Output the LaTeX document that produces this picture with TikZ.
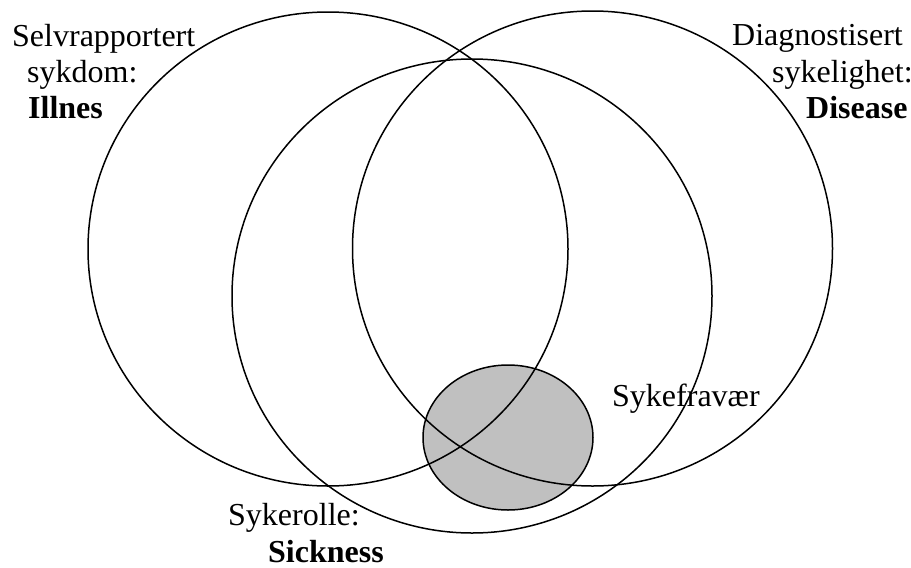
\documentclass[tikz,border=0pt]{standalone}
\usepackage{fontspec}
\setmainfont{Liberation Serif}
\begin{document}
\begin{tikzpicture}[x=1pt,y=-1pt,
  ring/.style={draw=black,line width=1.5pt},
  lbl/.style={inner sep=0pt,anchor=base west,font=\fontsize{32}{36}\selectfont},
  blbl/.style={lbl,font=\fontsize{32}{36}\selectfont\bfseries}]
\useasboundingbox (0,0) rectangle (911,568);
% shaded absence region
\fill[fill={rgb,255:red,192;green,192;blue,192}] (508,437.5) ellipse [x radius=85,y radius=72.5];
% three circles
\draw[ring] (328,249) ellipse [x radius=240,y radius=237];
\draw[ring] (592.5,248.5) ellipse [x radius=240,y radius=237.5];
\draw[ring] (472,296) ellipse [x radius=240,y radius=237];
\draw[ring] (508,437.5) ellipse [x radius=85,y radius=72.5];
% labels
\node[lbl] (l1) at (12,46) {Selvrapportert};
\node[lbl] (l2) at (27,82) {sykdom:};
\node[blbl] (l3) at (28,118) {Illnes};
\node[lbl] (r1) at (732,45) {Diagnostisert};
\node[lbl] (r2) at (772,82) {sykelighet:};
\node[blbl] (r3) at (806,118) {Disease};
\node[lbl] (b1) at (228,525) {Sykerolle:};
\node[blbl] (b2) at (268,562) {Sickness};
\node[lbl] (s1) at (612,406) {Sykefravær};
\end{tikzpicture}
\end{document}
